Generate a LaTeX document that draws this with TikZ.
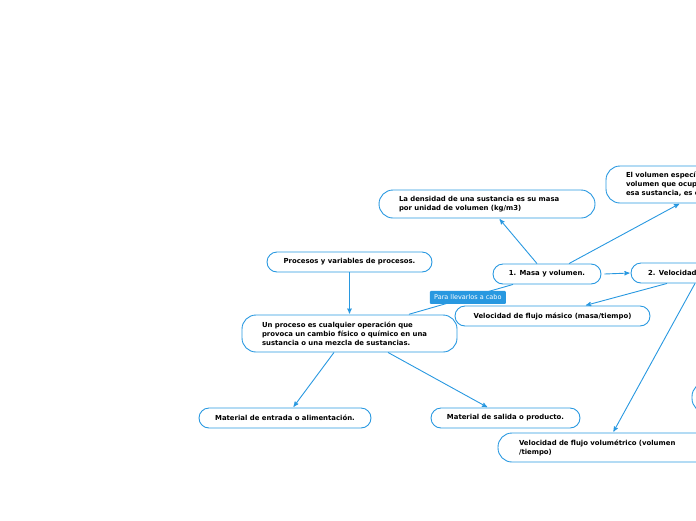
\documentclass[tikz,border=0pt]{standalone}
\usepackage{fontspec}
\setmainfont{DejaVu Sans}
\usetikzlibrary{arrows,positioning}
\definecolor{mapblue}{RGB}{40,152,224}

\begin{document}
\begin{tikzpicture}[x=1pt, y=-1pt, shorten >=1pt, >=stealth',
		every node/.style={font=\fontsize{6.9}{9}\selectfont\bfseries},
		topic/.style={draw=mapblue, line width=0.9pt, rounded corners=10pt, minimum height=20pt, inner ysep=0pt},
		note/.style={topic, align=left, inner xsep=20pt, rounded corners=14pt},
		tag/.style={fill=mapblue, text=white, font=\fontsize{6.5}{7}\selectfont, rounded corners=1pt,
			minimum width=76pt, minimum height=13pt, inner sep=0pt}]
		\useasboundingbox (0,0) rectangle (696,520);
		\clip (0,0) rectangle (696,520);
		% main topics
		\node[topic, minimum width=108pt](masa) at (547,274) {1. Masa y volumen.};
		\node[topic, align=left, inner xsep=17pt, text width=100pt](velocidad) at (698,273) {2. Velocidad};
		\node[topic, minimum width=165pt](procesos) at (349.5,262) {Procesos y variables de procesos.};
		% notes
		\node[note, text width=176pt, minimum height=28pt](densidad) at (487,204)
			{La densidad de una sustancia es su masa\\por unidad de volumen (kg/m3)};
		\node[note, text width=160pt, minimum height=37pt](volumen) at (706,184.5)
			{El volumen específico\\volumen que ocupa\\esa sustancia, es el};
		\node[note, text width=175pt, minimum height=37pt](proceso) at (349.5,333.5)
			{Un proceso es cualquier operación que\\provoca un cambio físico o químico en una\\sustancia o una mezcla de sustancias.};
		\node[topic, minimum width=195pt](masico) at (552.5,316) {Velocidad de flujo másico (masa/tiempo)};
		\node[note, inner xsep=21pt, text width=200pt, minimum height=29pt](volumetrico) at (619,447.5)
			{Velocidad de flujo volumétrico (volumen\\/tiempo)};
		\node[topic, minimum width=172pt](entrada) at (285,418) {Material de entrada o alimentación.};
		\node[topic, minimum width=149pt](salida) at (505.5,418) {Material de salida o producto.};
		\node[topic, rounded corners=14pt, minimum width=60pt, minimum height=30pt](resto) at (722,397.5) {};
		% connectors
		\path[->, mapblue, line width=0.9pt]
		([xshift=-10pt]masa.north) edge ([xshift=12pt]densidad.south)
		([xshift=22pt]masa.north) edge ([xshift=-26pt]volumen.south)
		([xshift=3pt]masa.east) edge (velocidad.west)
		([xshift=-31pt]velocidad.south) edge ([xshift=32.5pt]masico.north)
		([xshift=-3pt]velocidad.south) edge ([xshift=-6pt]volumetrico.north)
		(procesos.south) edge (proceso.north)
		([xshift=-15.5pt]proceso.south) edge ([xshift=8pt]entrada.north)
		([xshift=38.5pt]proceso.south) edge ([xshift=-17.5pt]salida.north)
		;
		\path[mapblue, line width=0.9pt]
		([xshift=-34pt]masa.south) edge node[tag, pos=0.43] {Para llevarlos a cabo} ([xshift=58.5pt]proceso.north)
		;
	\end{tikzpicture}
\end{document}
